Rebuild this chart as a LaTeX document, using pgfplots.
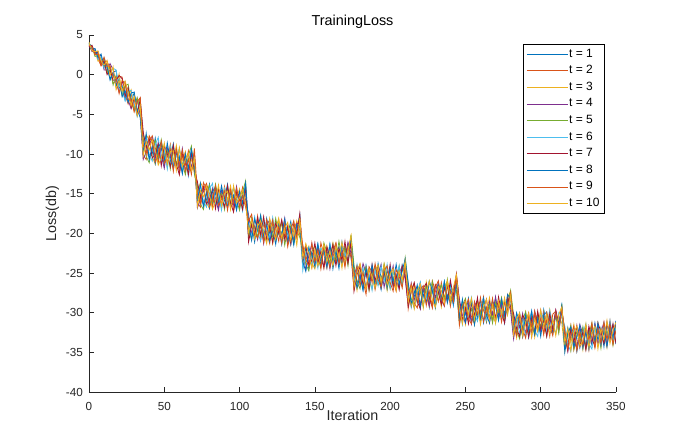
\documentclass[border=0pt]{standalone}
\usepackage{fontspec}
\setmainfont{Liberation Sans}
\usepackage{pgfplots}
\usepackage{pgfplotstable}
\pgfplotsset{compat=1.18}
\definecolor{c1}{rgb}{0,0.447,0.741}
\definecolor{c2}{rgb}{0.85,0.325,0.098}
\definecolor{c3}{rgb}{0.929,0.694,0.125}
\definecolor{c4}{rgb}{0.494,0.184,0.556}
\definecolor{c5}{rgb}{0.466,0.674,0.188}
\definecolor{c6}{rgb}{0.301,0.745,0.933}
\definecolor{c7}{rgb}{0.635,0.078,0.184}
\definecolor{axgray}{rgb}{0.15,0.15,0.15}
\pgfplotstableread{
x t1 t2 t3 t4 t5 t6 t7 t8 t9 t10
0 3.9 3.6 4.1 3.7 3.8 4.0 3.5 3.9 3.7 4.0
2 3.6 3.4 3.1 2.9 3.5 3.3 3.7 3.2 3.5 3.0
4 2.6 3.2 2.9 3.0 2.3 3.1 2.7 3.3 2.5 2.9
6 2.8 2.0 1.7 2.5 2.4 1.9 2.9 2.1 2.6 3.0
8 1.4 1.1 2.1 2.4 1.6 2.3 1.3 2.6 1.2 1.7
10 2.1 1.6 0.9 0.6 1.8 0.8 1.7 1.1 2.2 1.2
12 0.8 1.7 1.5 0.6 0.2 1.1 0.0 1.3 1.0 1.8
14 -0.5 0.7 0.0 1.4 1.0 0.3 0.6 -0.7 1.1 -0.1
16 0.3 -1.1 0.0 0.6 -1.3 0.8 -0.7 0.2 -0.3 1.0
18 0.5 -0.9 -1.5 -1.0 -0.1 0.6 -0.7 -1.4 -0.3 -1.9
20 -1.7 -0.2 0.1 -2.2 -0.9 -1.9 -0.1 -0.6 -2.4 -0.7
22 -1.4 -0.3 -2.3 -1.0 -2.6 -1.9 -0.5 -2.8 -0.7 -2.1
24 -3.2 -2.5 -1.3 -0.9 -1.4 -3.3 -2.7 -2.0 -1.1 -0.8
26 -1.7 -3.7 -2.7 -3.2 -1.2 -2.0 -1.6 -3.5 -3.1 -2.2
28 -3.3 -2.4 -1.9 -4.3 -3.5 -2.0 -4.1 -2.3 -3.1 -3.9
30 -2.3 -4.3 -4.6 -3.2 -4.4 -3.7 -3.0 -2.2 -4.7 -2.7
32 -4.7 -3.0 -3.6 -3.1 -2.9 -5.3 -5.0 -4.4 -3.4 -5.2
34 -3.4 -4.8 -3.0 -5.1 -4.5 -3.6 -3.1 -5.4 -2.9 -3.9
36 -7.6 -10.1 -8.4 -10.7 -8.1 -9.4 -7.2 -9.8 -8.8 -10.3
38 -8.8 -10.7 -7.6 -9.7 -10.3 -8.1 -9.3 -7.4 -10.0 -8.4
40 -10.6 -8.5 -8.2 -8.8 -11.1 -10.0 -8.0 -10.7 -7.7 -9.5
42 -10.0 -7.7 -10.3 -8.0 -9.2 -10.9 -10.5 -9.0 -8.4 -8.2
44 -8.0 -9.2 -11.3 -10.6 -8.3 -8.8 -10.1 -11.2 -11.0 -9.5
46 -10.7 -11.1 -9.4 -8.5 -10.4 -7.9 -8.8 -9.1 -10.1 -11.4
48 -9.2 -8.8 -11.1 -10.2 -8.2 -11.0 -11.5 -8.6 -8.4 -10.5
50 -11.5 -9.9 -9.2 -11.8 -10.4 -9.5 -8.9 -10.9 -11.2 -8.6
52 -9.2 -11.1 -11.7 -9.3 -9.6 -11.9 -10.0 -8.6 -10.3 -11.3
54 -10.5 -8.8 -9.0 -10.0 -11.9 -9.1 -11.6 -10.8 -9.4 -9.7
56 -8.7 -11.1 -10.9 -11.9 -9.4 -11.4 -8.9 -11.7 -12.2 -9.6
58 -11.8 -9.4 -8.9 -9.6 -11.4 -10.3 -11.3 -9.8 -9.4 -12.1
60 -10.3 -12.5 -11.6 -11.7 -9.3 -9.4 -12.6 -10.7 -11.4 -9.2
62 -12.5 -10.2 -10.8 -9.3 -11.2 -12.1 -9.9 -12.4 -9.5 -11.6
64 -9.9 -11.4 -9.7 -12.3 -12.6 -10.4 -10.7 -10.0 -12.1 -10.8
66 -12.0 -9.6 -12.5 -10.6 -10.2 -12.8 -12.6 -11.8 -10.7 -9.9
68 -9.5 -12.2 -10.5 -11.6 -9.0 -10.3 -9.9 -9.4 -12.6 -12.1
70 -11.7 -10.8 -12.4 -9.8 -12.5 -11.0 -12.0 -11.5 -9.3 -10.5
72 -13.9 -16.1 -14.8 -16.8 -14.1 -15.4 -13.5 -15.9 -15.1 -16.6
74 -15.0 -16.7 -13.6 -15.7 -16.3 -14.0 -15.5 -13.7 -16.2 -14.6
76 -16.5 -14.4 -14.3 -14.7 -17.0 -15.9 -14.1 -16.6 -13.6 -15.4
78 -15.8 -13.7 -16.1 -14.0 -15.0 -16.7 -16.3 -14.8 -14.4 -14.0
80 -13.8 -15.0 -16.9 -16.2 -13.9 -14.4 -15.7 -16.8 -16.6 -15.1
82 -16.3 -16.7 -15.2 -14.3 -16.0 -13.7 -14.6 -14.7 -15.7 -17.0
84 -14.8 -14.4 -16.5 -15.6 -13.8 -16.4 -16.9 -14.2 -14.0 -15.9
86 -16.8 -15.2 -14.7 -17.1 -15.7 -15.0 -14.4 -16.2 -16.5 -13.9
88 -14.6 -16.3 -16.9 -14.7 -15.0 -17.1 -15.4 -14.0 -15.7 -16.5
90 -15.6 -14.1 -14.3 -15.3 -17.0 -14.4 -16.7 -15.9 -14.7 -15.0
92 -13.8 -16.0 -15.8 -16.8 -14.5 -16.3 -14.0 -16.6 -17.1 -14.7
94 -16.7 -14.5 -14.0 -14.7 -16.3 -15.4 -16.2 -14.9 -14.5 -17.0
96 -15.2 -17.2 -16.3 -16.4 -14.2 -14.3 -17.3 -15.4 -16.1 -14.0
98 -17.1 -15.0 -15.5 -14.1 -15.8 -16.7 -14.7 -17.0 -14.3 -16.2
100 -14.6 -15.9 -14.4 -16.8 -17.1 -15.1 -15.4 -14.7 -16.6 -15.5
102 -16.4 -14.2 -16.9 -15.2 -14.8 -17.2 -17.0 -16.2 -15.3 -14.5
104 -13.8 -16.3 -14.8 -15.7 -13.4 -14.6 -14.2 -13.7 -16.7 -16.2
106 -20.3 -18.1 -19.6 -17.7 -20.7 -18.6 -21.1 -18.8 -18.4 -19.9
108 -18.7 -19.1 -20.8 -20.0 -18.0 -20.5 -18.9 -20.9 -17.6 -18.3
110 -21.1 -20.2 -18.3 -19.1 -19.3 -17.9 -20.3 -18.2 -19.9 -20.7
112 -18.5 -17.8 -18.9 -20.8 -20.5 -19.8 -18.0 -19.6 -20.6 -19.1
114 -19.3 -20.8 -20.5 -18.5 -17.8 -21.0 -20.2 -17.7 -18.8 -18.4
116 -20.9 -18.8 -18.1 -21.3 -20.0 -18.4 -17.9 -20.4 -21.1 -19.8
118 -18.1 -19.9 -20.2 -19.0 -21.1 -19.4 -20.8 -18.8 -18.3 -21.3
120 -20.0 -21.3 -18.8 -18.3 -18.7 -20.6 -19.1 -21.0 -19.7 -18.1
122 -18.6 -18.7 -21.3 -19.9 -20.5 -18.0 -21.2 -19.4 -18.3 -19.6
124 -21.0 -19.3 -19.4 -20.9 -18.1 -20.4 -18.7 -21.4 -20.6 -20.8
126 -19.3 -21.0 -18.1 -18.9 -20.1 -19.4 -20.0 -18.7 -19.2 -18.2
128 -21.4 -18.4 -20.7 -20.3 -18.6 -21.2 -18.3 -20.2 -21.3 -20.5
130 -19.0 -20.4 -19.7 -18.1 -21.5 -18.6 -20.8 -18.2 -18.8 -19.3
132 -20.1 -19.0 -21.2 -21.4 -19.4 -20.0 -19.2 -21.0 -21.7 -18.6
134 -18.5 -21.4 -18.9 -19.5 -19.1 -21.5 -21.3 -19.3 -19.6 -20.9
136 -20.9 -19.5 -20.4 -21.0 -21.3 -19.1 -18.8 -21.5 -18.4 -19.2
138 -19.6 -18.6 -18.4 -18.7 -19.7 -20.4 -20.2 -18.9 -20.6 -21.5
140 -17.7 -20.2 -19.7 -18.9 -20.5 -17.9 -17.5 -19.1 -18.3 -18.1
142 -23.8 -21.5 -24.3 -22.5 -22.0 -24.7 -22.7 -23.6 -21.6 -23.1
144 -21.8 -23.4 -22.3 -24.6 -23.9 -22.4 -21.5 -24.8 -23.3 -21.3
146 -24.5 -22.1 -21.6 -22.8 -24.7 -21.7 -24.0 -21.9 -24.2 -22.6
148 -22.4 -24.3 -23.7 -21.3 -22.3 -24.0 -23.4 -22.6 -21.2 -24.4
150 -23.2 -22.3 -24.5 -23.8 -21.6 -22.7 -21.2 -24.2 -23.6 -22.0
152 -21.3 -24.0 -22.6 -21.8 -23.1 -24.4 -23.8 -21.4 -22.1 -24.1
154 -24.1 -21.2 -22.0 -23.4 -24.3 -21.9 -22.3 -23.3 -24.5 -22.8
156 -22.0 -22.7 -24.3 -24.1 -21.2 -22.3 -24.4 -21.9 -21.6 -21.4
158 -23.4 -24.4 -21.6 -22.0 -22.4 -24.0 -21.7 -24.3 -22.9 -23.6
160 -21.4 -21.7 -23.3 -24.5 -23.8 -21.3 -23.0 -21.5 -24.3 -22.2
162 -24.5 -23.1 -21.2 -22.4 -21.4 -23.4 -21.4 -23.6 -22.2 -24.1
164 -22.5 -21.3 -23.7 -21.4 -23.4 -21.8 -24.1 -22.2 -21.2 -21.6
166 -21.7 -23.6 -22.1 -23.8 -21.0 -24.3 -21.9 -24.4 -23.8 -23.1
168 -24.0 -22.2 -24.4 -22.0 -23.1 -21.5 -23.4 -21.1 -22.4 -21.1
170 -21.9 -24.3 -21.5 -23.2 -21.7 -22.9 -21.0 -23.6 -24.0 -23.5
172 -23.6 -21.4 -22.7 -21.1 -24.1 -21.9 -23.8 -21.8 -21.7 -22.1
174 -20.9 -22.8 -20.4 -22.5 -20.2 -23.1 -21.1 -20.8 -23.0 -20.3
176 -24.5 -27.0 -25.0 -26.5 -24.0 -25.9 -27.3 -24.8 -25.4 -26.8
178 -26.3 -24.7 -27.2 -24.2 -26.1 -23.9 -25.2 -26.9 -24.1 -25.0
180 -25.2 -23.9 -24.5 -25.9 -27.0 -26.3 -24.2 -25.3 -26.6 -23.8
182 -27.1 -26.0 -26.4 -23.8 -24.8 -24.3 -26.5 -27.2 -24.9 -25.8
184 -24.0 -27.7 -24.2 -25.0 -24.3 -26.9 -24.8 -24.4 -27.1 -27.0
186 -25.9 -24.2 -25.7 -26.9 -27.2 -25.1 -27.1 -26.1 -24.4 -24.5
188 -24.6 -24.9 -27.0 -24.5 -25.2 -27.2 -23.9 -24.0 -26.2 -25.4
190 -26.7 -27.1 -24.7 -26.2 -24.1 -24.6 -26.0 -26.7 -23.8 -26.9
192 -23.8 -25.3 -24.0 -25.2 -26.5 -26.6 -24.4 -25.1 -25.8 -24.2
194 -25.6 -26.5 -26.6 -23.9 -26.1 -24.1 -26.9 -27.1 -26.8 -26.2
196 -24.9 -24.1 -25.1 -26.8 -23.8 -26.1 -24.9 -24.6 -24.7 -23.9
198 -27.0 -26.3 -27.2 -24.7 -25.3 -23.9 -26.4 -26.9 -24.1 -26.5
200 -24.4 -24.5 -24.7 -25.8 -27.0 -26.9 -23.9 -24.3 -26.2 -25.2
202 -26.6 -25.9 -25.5 -24.1 -24.7 -24.9 -26.8 -26.1 -27.3 -24.4
204 -25.2 -27.3 -27.0 -26.6 -26.1 -25.8 -25.3 -23.9 -24.6 -27.2
206 -26.9 -24.9 -24.4 -25.0 -24.1 -24.1 -27.1 -26.4 -25.4 -24.8
208 -24.0 -26.5 -26.1 -24.2 -26.6 -26.3 -24.1 -24.8 -26.9 -25.9
210 -25.5 -23.4 -23.7 -25.8 -23.1 -23.9 -25.3 -23.2 -24.1 -23.5
212 -26.9 -29.5 -27.6 -29.0 -26.5 -28.5 -29.2 -26.2 -27.8 -28.7
214 -29.3 -27.1 -29.1 -26.3 -28.2 -26.7 -27.4 -28.8 -26.4 -26.8
216 -27.2 -26.3 -26.4 -28.4 -29.4 -29.3 -26.2 -28.0 -28.8 -29.5
218 -28.7 -28.2 -28.5 -27.4 -26.9 -27.4 -28.6 -26.5 -29.4 -27.3
220 -26.2 -29.1 -26.9 -29.5 -27.3 -26.2 -29.5 -29.2 -27.1 -26.4
222 -28.0 -26.7 -29.4 -26.8 -29.2 -28.8 -26.9 -27.0 -26.6 -29.1
224 -26.4 -27.4 -26.1 -27.6 -26.5 -28.0 -26.3 -28.8 -29.1 -27.5
226 -29.3 -29.2 -28.0 -29.1 -28.4 -26.0 -28.1 -26.1 -27.3 -26.0
228 -27.0 -26.0 -28.8 -26.4 -26.1 -27.0 -29.3 -27.2 -29.4 -28.4
230 -28.8 -27.2 -26.5 -28.2 -29.4 -29.1 -26.5 -29.3 -26.8 -29.3
232 -27.3 -28.6 -27.0 -26.1 -27.4 -26.5 -27.4 -26.4 -26.0 -26.7
234 -28.9 -26.2 -29.3 -28.4 -26.5 -28.1 -29.0 -28.3 -28.2 -27.2
236 -26.1 -28.2 -26.8 -29.2 -28.5 -26.1 -26.8 -26.1 -29.1 -28.8
238 -28.1 -26.6 -26.0 -26.6 -25.8 -28.8 -28.6 -28.7 -26.4 -26.0
240 -26.4 -29.2 -28.0 -27.3 -28.7 -26.9 -25.9 -27.2 -27.3 -28.4
242 -29.1 -27.1 -28.8 -28.5 -26.9 -29.0 -28.0 -28.9 -28.6 -26.8
244 -26.2 -25.6 -25.8 -25.3 -27.2 -26.0 -25.1 -26.1 -25.4 -25.2
246 -31.1 -28.9 -30.4 -28.3 -31.4 -29.6 -28.6 -30.7 -31.6 -29.2
248 -28.5 -31.2 -28.8 -30.3 -29.1 -31.5 -31.0 -28.3 -29.3 -31.4
250 -30.2 -29.4 -31.5 -31.3 -28.2 -28.7 -29.4 -31.2 -28.5 -28.7
252 -28.2 -28.3 -29.4 -28.9 -30.7 -30.5 -31.4 -29.5 -30.8 -30.2
254 -31.3 -30.5 -28.3 -31.4 -29.5 -28.1 -28.8 -28.6 -31.4 -28.2
256 -29.3 -31.4 -30.8 -29.2 -31.5 -30.2 -30.4 -31.5 -28.6 -30.9
258 -30.7 -28.6 -29.1 -28.4 -28.5 -31.1 -28.1 -29.1 -30.2 -29.0
260 -28.6 -30.0 -31.2 -30.8 -30.3 -28.9 -31.1 -30.9 -28.1 -31.5
262 -31.3 -28.0 -28.4 -29.4 -28.6 -28.2 -29.5 -28.2 -31.1 -29.4
264 -29.5 -30.8 -30.0 -31.2 -31.1 -30.9 -28.3 -30.3 -29.3 -28.3
266 -28.8 -29.1 -28.1 -28.6 -29.1 -29.9 -31.2 -31.3 -30.6 -30.9
268 -31.0 -31.2 -30.5 -30.2 -31.3 -28.3 -29.0 -28.6 -28.2 -29.0
270 -28.1 -28.8 -31.2 -28.0 -28.7 -31.3 -30.7 -29.2 -31.0 -31.3
272 -30.2 -29.9 -28.6 -30.8 -29.9 -29.0 -28.0 -31.0 -29.0 -28.5
274 -28.6 -28.2 -29.4 -29.1 -28.1 -30.7 -30.1 -28.3 -31.2 -30.2
276 -31.3 -30.8 -30.9 -31.0 -30.7 -28.4 -31.3 -30.3 -28.7 -28.1
278 -28.8 -27.8 -28.1 -28.5 -29.0 -30.2 -28.1 -27.7 -29.7 -30.3
280 -27.7 -29.5 -27.3 -29.8 -27.2 -27.8 -29.2 -28.3 -27.5 -27.9
282 -30.7 -33.0 -31.2 -33.3 -30.4 -32.2 -30.1 -32.6 -31.5 -32.8
284 -32.7 -31.0 -33.2 -30.6 -32.3 -30.2 -32.0 -30.0 -32.9 -30.8
286 -30.1 -30.3 -30.7 -31.9 -33.3 -32.8 -33.0 -31.3 -30.2 -30.0
288 -32.0 -33.1 -32.6 -30.1 -30.9 -30.5 -30.3 -33.0 -32.1 -32.9
290 -30.2 -31.3 -29.9 -32.7 -29.9 -33.0 -31.0 -30.3 -33.2 -31.2
292 -33.1 -30.0 -32.1 -30.8 -32.6 -31.2 -33.1 -32.2 -30.4 -30.1
294 -31.1 -32.5 -30.3 -33.0 -31.3 -29.8 -30.6 -29.8 -31.8 -33.1
296 -32.7 -30.3 -33.1 -29.8 -32.8 -32.2 -32.6 -32.7 -29.8 -30.8
298 -30.3 -32.0 -30.9 -31.2 -30.0 -33.0 -29.8 -30.8 -32.3 -32.3
300 -32.2 -29.7 -32.7 -32.4 -31.8 -30.1 -32.1 -33.0 -30.7 -29.7
302 -29.6 -32.6 -29.9 -30.1 -30.4 -31.1 -31.0 -30.3 -32.8 -31.8
304 -31.6 -30.9 -32.2 -32.9 -32.9 -32.4 -33.0 -29.9 -30.0 -30.2
306 -30.6 -33.0 -29.6 -30.7 -30.0 -29.7 -30.1 -32.1 -31.5 -32.7
308 -32.6 -30.2 -31.6 -31.9 -31.7 -31.7 -32.1 -32.7 -32.9 -30.8
310 -30.0 -29.8 -32.7 -29.7 -30.4 -32.6 -29.7 -30.1 -30.0 -32.9
312 -32.1 -31.9 -30.4 -32.4 -32.6 -30.0 -31.4 -31.6 -31.9 -30.2
314 -29.2 -30.2 -31.3 -29.8 -28.9 -30.5 -29.4 -29.1 -29.5 -29.3
316 -34.2 -32.0 -34.8 -32.7 -34.5 -31.7 -33.0 -35.0 -32.3 -33.8
318 -31.9 -34.1 -32.3 -34.9 -32.8 -34.0 -34.8 -32.5 -34.6 -32.0
320 -33.6 -31.6 -33.8 -32.0 -31.6 -34.9 -32.1 -31.8 -32.9 -34.8
322 -32.2 -34.7 -31.5 -33.5 -34.6 -32.3 -33.8 -34.3 -31.7 -32.5
324 -34.9 -32.9 -34.4 -34.5 -32.3 -32.0 -31.6 -33.0 -34.8 -31.7
326 -32.8 -32.0 -32.6 -31.5 -33.8 -34.5 -34.3 -31.6 -32.5 -34.2
328 -31.9 -34.4 -34.7 -32.7 -31.8 -32.7 -32.4 -34.5 -34.1 -33.5
330 -34.3 -32.3 -31.7 -34.5 -34.6 -31.4 -34.7 -32.4 -31.7 -31.4
332 -32.4 -34.7 -33.4 -32.0 -32.7 -33.9 -31.7 -34.6 -33.5 -34.4
334 -34.1 -31.5 -32.1 -33.8 -31.3 -34.6 -33.2 -31.9 -31.3 -32.5
336 -31.3 -33.3 -34.3 -31.5 -33.9 -31.8 -34.3 -33.6 -34.4 -31.7
338 -33.5 -32.0 -31.3 -34.0 -32.3 -32.4 -31.3 -31.3 -32.1 -34.6
340 -31.9 -34.2 -33.7 -32.5 -34.5 -34.1 -32.4 -34.0 -33.9 -32.0
342 -34.3 -31.6 -32.2 -31.2 -31.4 -31.4 -33.9 -32.4 -31.2 -33.4
344 -31.4 -33.3 -34.4 -34.1 -32.7 -33.4 -31.2 -34.3 -33.4 -31.0
346 -32.9 -31.0 -31.6 -32.0 -31.5 -31.0 -33.5 -31.4 -31.4 -33.9
348 -31.5 -33.7 -33.9 -33.8 -34.1 -33.6 -31.4 -33.1 -34.0 -32.2
350 -34.0 -32.1 -31.2 -31.1 -31.8 -32.0 -33.9 -31.0 -32.2 -31.2
}\loss
\begin{document}
\begin{tikzpicture}
\path[use as bounding box] (-89pt,-49pt) rectangle (592pt,392pt);
\begin{axis}[
  at={(0pt,0pt)}, anchor=south west,
  scale only axis, width=527pt, height=357pt,
  xmin=0, xmax=350, ymin=-40, ymax=5,
  xtick={0,50,...,350}, ytick={-40,-35,...,5},
  axis x line*=bottom, axis y line*=left,
  axis line style={axgray, line width=0.7pt},
  tick align=inside, major tick length=5pt,
  every tick/.style={axgray, line width=0.7pt},
  /pgf/number format/assume math mode=true,
  tick label style={font=\fontsize{11.7}{13}\selectfont, text=axgray},
  xticklabel style={anchor=north, inner sep=0pt, yshift=-10.5pt},
  yticklabel style={anchor=east, inner sep=0pt, xshift=-6pt},
  xlabel={Iteration}, ylabel={Loss(db)},
  every axis x label/.style={at={(axis description cs:0.5,-0.0798)}, anchor=base,
    font=\fontsize{14.3}{16}\selectfont, text=axgray},
  every axis y label/.style={at={(axis description cs:-0.0626,0.5)}, rotate=90, anchor=base,
    font=\fontsize{14.3}{16}\selectfont, text=axgray},
  title={TrainingLoss},
  every axis title/.style={at={(axis description cs:0.5,1.026)}, anchor=base,
    font=\fontsize{14.4}{16}\selectfont},
  legend style={at={(0.8235,0.9748)}, anchor=north west, draw=black, line width=0.5pt,
    font=\fontsize{12}{13}\selectfont, inner xsep=3.3pt, inner ysep=3.4pt,
    nodes={inner sep=1pt, text height=8.5pt, text depth=2.5pt}, row sep=3.6pt},
  legend cell align=left,
  legend image code/.code={\draw[#1, line width=0.6pt] (0pt,0pt) -- (41pt,0pt);},
  every axis plot/.append style={line width=0.8pt},
]
\addplot[c1] table[x=x,y=t1]{\loss};
\addplot[c2] table[x=x,y=t2]{\loss};
\addplot[c3] table[x=x,y=t3]{\loss};
\addplot[c4] table[x=x,y=t4]{\loss};
\addplot[c5] table[x=x,y=t5]{\loss};
\addplot[c6] table[x=x,y=t6]{\loss};
\addplot[c7] table[x=x,y=t7]{\loss};
\addplot[c1] table[x=x,y=t8]{\loss};
\addplot[c2] table[x=x,y=t9]{\loss};
\addplot[c3] table[x=x,y=t10]{\loss};
\legend{t = 1,t = 2,t = 3,t = 4,t = 5,t = 6,t = 7,t = 8,t = 9,t = 10}
\end{axis}
\end{tikzpicture}
\end{document}
